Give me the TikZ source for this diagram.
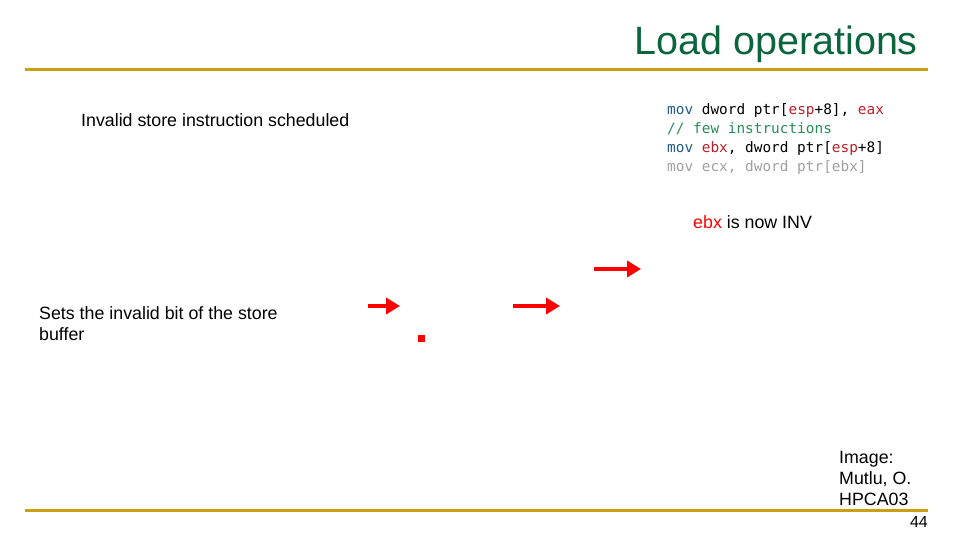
\documentclass[tikz,border=0pt]{standalone}
\usepackage{fontspec}
\usetikzlibrary{arrows.meta}
\setmainfont{Liberation Sans}
\setmonofont{DejaVu Sans Mono}
\definecolor{titleg}{RGB}{10,100,60}
\definecolor{gold}{RGB}{200,160,20}
\definecolor{kw}{RGB}{30,90,140}
\definecolor{rg}{RGB}{190,30,40}
\definecolor{cm}{RGB}{40,140,90}
\definecolor{gr}{RGB}{160,160,160}
\begin{document}
\begin{tikzpicture}[x=1pt,y=-1pt,
  txt/.style={anchor=west,inner sep=0,font=\fontsize{17.8pt}{21pt}\selectfont,align=left},
  code/.style={anchor=north west,inner sep=0,font=\ttfamily\fontsize{14.4pt}{19pt}\selectfont,align=left},
  rule/.style={gold,line width=3pt},
  arr/.style={red,line width=4.5pt,-{Triangle[length=14pt,width=16pt]}}]
\useasboundingbox (0,0) rectangle (960,540);
\node[anchor=base east,inner sep=0,text=titleg,font=\fontsize{39.5pt}{44pt}\selectfont] (title) at (918,55) {Load operations};
\draw[rule] (25,70) -- (928,70);
\draw[rule] (25,510) -- (928,510);
\node[txt] (t1) at (81,120) {Invalid store instruction scheduled};
\node[code] (c) at (667,103) {\textcolor{kw}{mov} dword ptr[\textcolor{rg}{esp}+8], \textcolor{rg}{eax}\\
\textcolor{cm}{// few instructions}\\
\textcolor{kw}{mov} \textcolor{rg}{ebx}, dword ptr[\textcolor{rg}{esp}+8]\\
\textcolor{gr}{mov ecx, dword ptr[ebx]}};
\node[txt] (t2) at (693,222) {\textcolor{red}{ebx} is now INV};
\node[txt,anchor=north west] (t3) at (39,306) {Sets the invalid bit of the store\\buffer};
\coordinate (a1s) at (368,306); \coordinate (a1e) at (400,306);
\coordinate (a2s) at (513,306); \coordinate (a2e) at (560,306);
\coordinate (a3s) at (594,269); \coordinate (a3e) at (641,269);
\draw[arr] (a1s) -- (a1e);
\draw[arr] (a2s) -- (a2e);
\draw[arr] (a3s) -- (a3e);
\fill[red] (418,335) rectangle (425,342);
\node[txt,anchor=north west] (img) at (839,451) {Image:\\Mutlu, O.\\HPCA03};
\node[anchor=base east,inner sep=0,font=\fontsize{16pt}{18pt}\selectfont] (pg) at (928,527) {44};
\end{tikzpicture}
\end{document}
